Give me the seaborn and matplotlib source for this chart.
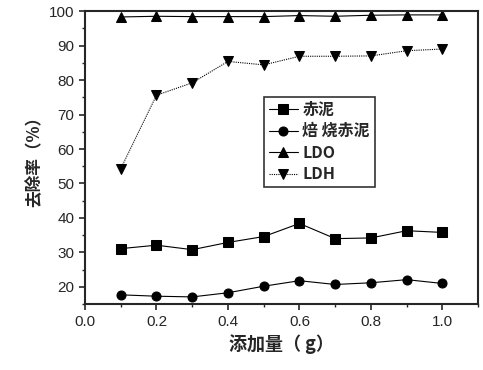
import pandas as pd
import seaborn as sns
import matplotlib.pyplot as plt
from matplotlib.ticker import MultipleLocator

# data
dose = [0.1, 0.2, 0.3, 0.4, 0.5, 0.6, 0.7, 0.8, 0.9, 1.0]
red_mud = [31.1, 32.1, 30.8, 32.9, 34.6, 38.4, 34.0, 34.2, 36.3, 35.8]
roasted = [17.7, 17.3, 17.1, 18.3, 20.2, 21.8, 20.7, 21.2, 22.1, 21.0]
ldo = [98.3, 98.5, 98.4, 98.4, 98.4, 98.7, 98.5, 98.8, 98.9, 98.9]
ldh = [54.3, 75.6, 79.2, 85.4, 84.4, 86.9, 86.9, 87.0, 88.5, 89.0]
names = ["赤泥", "焙 烧赤泥", "LDO", "LDH"]

df = pd.concat([
    pd.DataFrame({"dose": dose, "rate": vals, "series": n})
    for n, vals in zip(names, [red_mud, roasted, ldo, ldh])
])

sns.set_style("ticks")
plt.rcParams['font.family'] = ['Liberation Sans', 'Noto Sans CJK SC', 'DejaVu Sans']

fig = plt.figure(figsize=(4.83, 3.70), dpi=100)
ax = fig.add_axes([0.176, 0.178, 0.814, 0.792])

sns.lineplot(data=df, x="dose", y="rate", hue="series", style="series",
             palette=["black"] * 4,
             markers={"赤泥": "s", "焙 烧赤泥": "o", "LDO": "^", "LDH": "v"},
             dashes={"赤泥": "", "焙 烧赤泥": "", "LDO": "", "LDH": (1, 1)},
             markersize=6.5, linewidth=0.8, markeredgecolor="black", ax=ax)

ax.set_xlim(0, 1.1)
ax.set_ylim(15, 100)
ax.xaxis.set_major_locator(MultipleLocator(0.2))
ax.xaxis.set_minor_locator(MultipleLocator(0.1))
ax.yaxis.set_major_locator(MultipleLocator(10))
ax.yaxis.set_minor_locator(MultipleLocator(5))
ax.set_xticks([0.0, 0.2, 0.4, 0.6, 0.8, 1.0])
ax.tick_params(which="major", length=4, width=1.2, labelsize=11, direction="out")
ax.tick_params(which="minor", length=2.5, width=1.0, direction="out")
for sp in ax.spines.values():
    sp.set_linewidth(1.5)

ax.set_xlabel("添加量（ g）", fontsize=13, fontweight="bold",
              family=['Noto Sans CJK SC', 'DejaVu Sans'])
ax.set_ylabel("去除率（%）", fontsize=12, fontweight="bold",
              family=['Noto Sans CJK SC', 'DejaVu Sans'])

leg = ax.legend(loc="upper left", bbox_to_anchor=(0.435, 0.735),
                frameon=True, fancybox=False, edgecolor="black",
                handlelength=1.8, handletextpad=0.3, borderpad=0.3,
                labelspacing=0.35,
                prop={'family': ['Noto Sans CJK SC', 'DejaVu Sans'],
                      'weight': 'bold', 'size': 11.5})
leg.get_frame().set_linewidth(1.2)

fig.savefig("out.png", dpi=100)
